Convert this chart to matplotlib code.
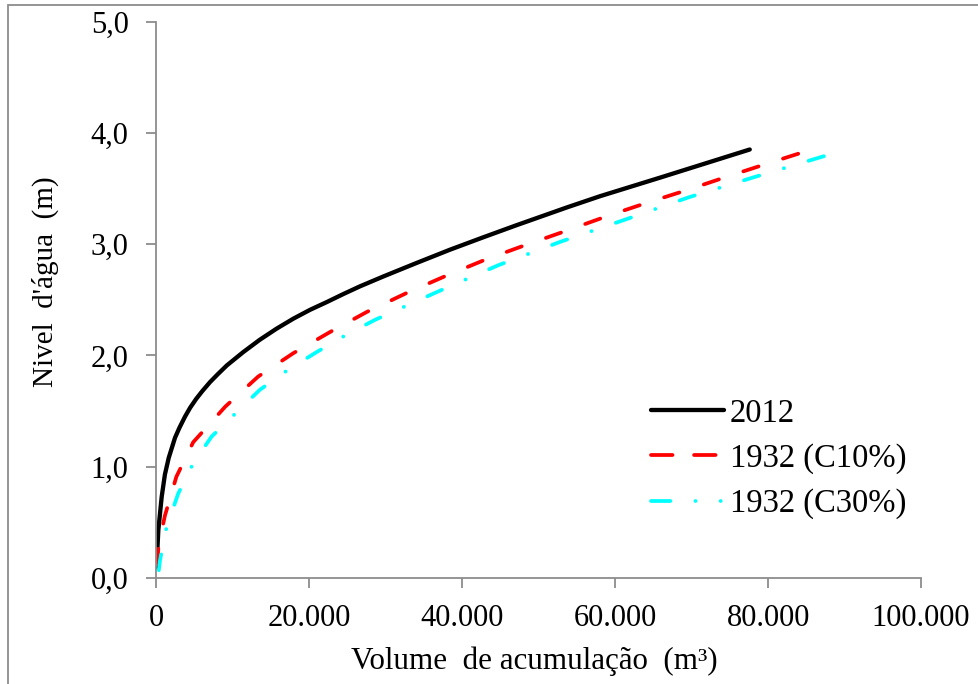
import matplotlib
matplotlib.use("Agg")
import matplotlib.pyplot as plt
from matplotlib.patches import Rectangle
from matplotlib.lines import Line2D
from matplotlib.ticker import FuncFormatter

plt.rcParams['font.family'] = ['Liberation Serif', 'DejaVu Serif']
plt.rcParams['lines.scale_dashes'] = False

# Stage-volume curves: accumulated volume (m³) vs water level (m)
vol_2012 = [0, 240, 680, 1100, 1600, 2420, 3000, 3730, 4400, 5200, 6000,
            7000, 8000, 9200, 11350, 13500, 15700, 17900, 20100, 22300,
            24400, 26600, 29700, 34000, 38400, 42700, 47100, 53700, 58000,
            66000, 77600]
lvl_2012 = [0.10, 0.43, 0.73, 0.93, 1.08, 1.26, 1.35, 1.45, 1.53, 1.61, 1.68,
            1.76, 1.83, 1.91, 2.03, 2.14, 2.24, 2.33, 2.41, 2.48,
            2.55, 2.62, 2.71, 2.83, 2.95, 3.06, 3.17, 3.33, 3.43,
            3.60, 3.85]

vol_c10 = [0, 300, 1100, 2600, 4800, 9000, 13300, 17900, 22700, 27500,
           32700, 37700, 43000, 48200, 53200, 59300, 64100, 69600, 74800,
           80200, 86600]
lvl_c10 = [0.12, 0.30, 0.56, 0.91, 1.22, 1.54, 1.81, 2.02, 2.21, 2.39,
           2.56, 2.71, 2.86, 2.99, 3.11, 3.26, 3.37, 3.49, 3.61,
           3.73, 3.87]

vol_c30 = [300, 460, 1330, 2850, 4800, 7200, 10500, 13500, 17200, 20950,
           24700, 28600, 36700, 44700, 52800, 61300, 69600, 78100, 87800]
lvl_c30 = [0.07, 0.16, 0.46, 0.76, 1.03, 1.27, 1.49, 1.69, 1.87, 2.03,
           2.18, 2.32, 2.57, 2.81, 3.02, 3.22, 3.42, 3.60, 3.80]

series_labels = ['2012', '1932 (C10%)', '1932 (C30%)']
x_ticks = [0, 20000, 40000, 60000, 80000, 100000]
y_ticks = [0.0, 1.0, 2.0, 3.0, 4.0, 5.0]

W, H = 979, 684
fig = plt.figure(figsize=(W / 100, H / 100), dpi=100)
ax = fig.add_axes([156.5 / W, 1 - 578 / H, (921 - 156.5) / W, (578 - 21.5) / H])

ax.plot(vol_2012, lvl_2012, color='black', lw=3.1, solid_capstyle='round',
        solid_joinstyle='round')
ax.plot(vol_c10, lvl_c10, color='#ff0000', lw=2.7, dash_capstyle='round',
        dashes=(11.5, 18.5))
ax.plot(vol_c30, lvl_c30, color='#00ffff', lw=2.7, dash_capstyle='round',
        dashes=(11.5, 18.5, 0.1, 18.5))

ax.set_xlim(0, 100000)
ax.set_ylim(0, 5.0)
ax.set_xticks(x_ticks)
ax.set_yticks(y_ticks)
ax.xaxis.set_major_formatter(FuncFormatter(
    lambda v, p: f"{int(round(v)):,}".replace(',', '.')))
ax.yaxis.set_major_formatter(FuncFormatter(
    lambda v, p: f"{v:.1f}".replace('.', ',')))

for side in ('top', 'right'):
    ax.spines[side].set_visible(False)
for side in ('left', 'bottom'):
    ax.spines[side].set_color('#8c8c8c')
    ax.spines[side].set_linewidth(1.3)
ax.tick_params(axis='both', direction='out', length=7, width=1.3,
               color='#8c8c8c', labelsize=22, labelcolor='black')
ax.tick_params(axis='y', pad=13)
ax.tick_params(axis='x', pad=12)

ax.set_xlabel('Volume  de acumulação  (m³)', fontsize=22.3)
ax.xaxis.label.set_va('center')
ax.xaxis.set_label_coords(0.494, -0.149)
ax.set_ylabel('Nivel  d\'água  (m)', fontsize=21)
ax.yaxis.label.set_va('center')
ax.yaxis.set_label_coords(-0.146, 0.532)

# Legend keys with their own dash layout over the short key length
keys = [
    Line2D([], [], color='black', lw=3.1, solid_capstyle='round'),
    Line2D([], [], color='#ff0000', lw=2.7, dash_capstyle='round',
           dashes=(15.5, 15.5)),
    Line2D([], [], color='#00ffff', lw=2.7, dash_capstyle='round',
           dashes=(14, 18, 0.1, 18, 0.1, 40)),
]
ax.legend(keys, series_labels, loc='upper left',
          bbox_to_anchor=(651 / W, 1 - 398 / H),
          bbox_transform=fig.transFigure, frameon=False, fontsize=23.5,
          handlelength=2.25, handletextpad=0.17, labelspacing=0.45,
          borderpad=0, borderaxespad=0)

# Outer frame around the chart area
fig.add_artist(Rectangle((8 / W, -0.05), 1.2, 1 - 5 / H + 0.05,
                         transform=fig.transFigure, fill=False,
                         edgecolor='#8c8c8c', lw=1.3))

fig.savefig('out.png', dpi=100)
